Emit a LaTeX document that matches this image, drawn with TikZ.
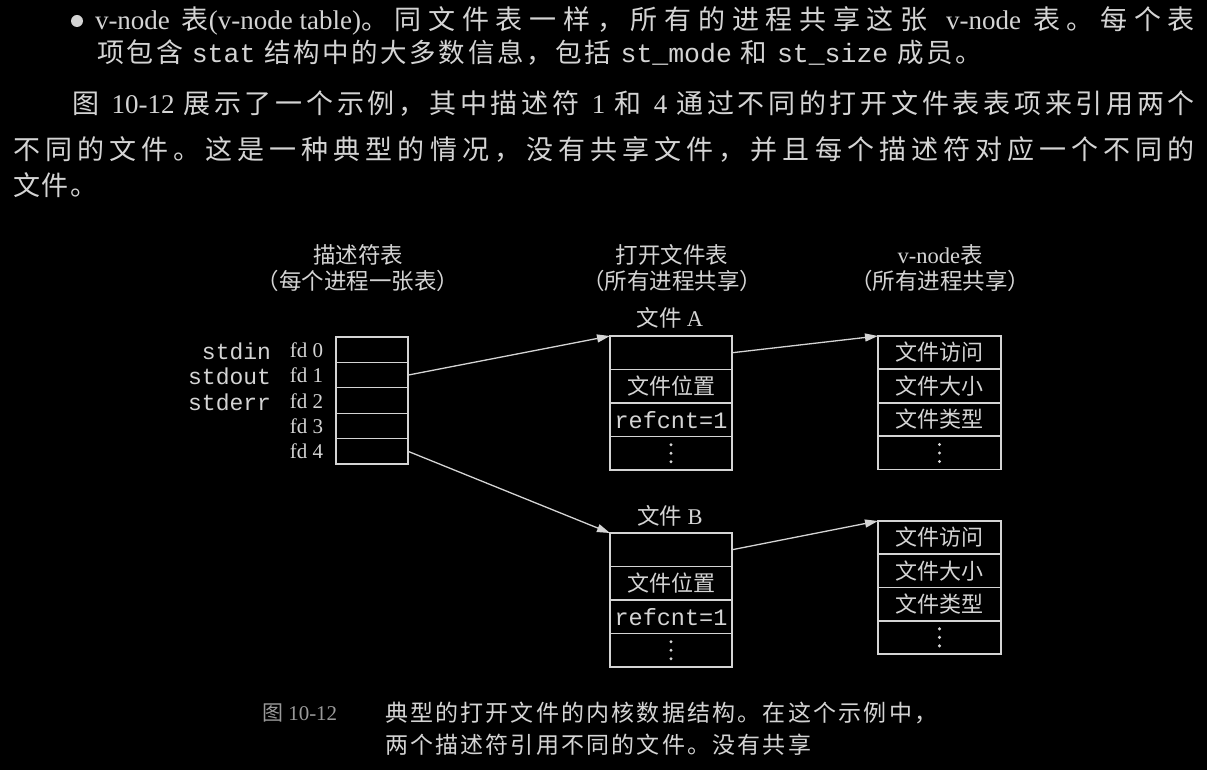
\documentclass[tikz,border=0pt]{standalone}
\usepackage{fontspec}
\setmainfont{Liberation Serif}
\setmonofont{Liberation Mono}
\newfontfamily\cjk{Noto Sans CJK SC}
\usetikzlibrary{arrows.meta}
\definecolor{ink}{HTML}{D4D4D4}
\definecolor{dim}{HTML}{9A9A9A}
\makeatletter
% CJK run with a gap after every character (#1 is the glue to insert)
\newcommand{\zsp}[2]{{\cjk\@tfor\zz@c:=#2\do{\zz@c\hskip #1\relax}}}
\makeatother
% body text: small natural gap that may stretch to justify a line
\newcommand{\zh}[1]{\zsp{1.6pt plus 1fil}{#1}}
\newcommand{\zl}[1]{\zsp{2.6pt}{#1}}
\newcommand{\cz}[1]{\zsp{2.2pt}{#1}}
% stretchable word space used in justified lines
\newcommand{\wsp}{\hskip 0.25em plus 1fil\relax}

\begin{document}
\begin{tikzpicture}[x=1pt,y=-1pt,
  every node/.style={text=ink, inner sep=0pt, outer sep=0pt},
  body/.style={anchor=west, font=\fontsize{27}{27}\selectfont},
  head/.style={font=\fontsize{22.5}{22.5}\selectfont\cjk},
  lbl/.style={anchor=east, font=\fontsize{21}{21}\selectfont},
  mlbl/.style={anchor=east, font=\fontsize{23}{23}\selectfont\ttfamily},
  boxrow/.style={draw=ink, line width=1.3pt, anchor=north west, font=\fontsize{22}{22}\selectfont\cjk},
  dcell/.style={boxrow, minimum width=72pt, minimum height=25.4pt},
  fcell/.style={boxrow, minimum width=122pt, minimum height=33.5pt},
  vcell/.style={boxrow, minimum width=123pt, minimum height=33pt},
  refrow/.style={font=\fontsize{23.5}{23.5}\selectfont\ttfamily},
  dotrow/.style={path picture={
      \foreach \dy in {-8.5,0,8.5}
        \fill[ink] ([yshift=\dy pt]path picture bounding box.center) circle (1.7pt);}},
  arr/.style={draw=ink, line width=1.3pt, -{Triangle[length=13pt,width=8pt]}},
  captext/.style={anchor=west, font=\fontsize{23}{23}\selectfont},
]
\fill[black] (0,0) rectangle (1207,770);
\useasboundingbox (0,0) rectangle (1207,770);

% running text above the figure
\fill[ink] (77,21) circle (6pt);
\node[body] (t1) at (95,21) {\makebox[1100pt][s]{v-node\wsp\zh{表}\unskip(v-node table)\zh{。同文件表一样，所有的进程共享这张}\wsp v-node\wsp\zh{表。每个表}\unskip}};
\node[body] (t2) at (97,53) {\zl{项包含}\hskip 6pt\fontsize{26.5}{26.5}\ttfamily stat\hskip 9pt\zl{结构中的大多数信息，包括}\hskip 7pt st\_mode\hskip 9pt\zl{和}\hskip 7pt st\_size\hskip 9pt\zl{成员。}};
\node[body] (t3) at (72,104) {\makebox[1123pt][s]{\zh{图}\wsp 10-12\wsp\zh{展示了一个示例，其中描述符}\wsp 1\wsp\zh{和}\wsp 4\wsp\zh{通过不同的打开文件表表项来引用两个}\unskip}};
\node[body] (t4) at (13,149) {\makebox[1182pt][s]{\zh{不同的文件。这是一种典型的情况，没有共享文件，并且每个描述符对应一个不同的}\unskip}};
\node[body] (t5) at (13,185) {\zh{文件。}};

% column headings
\node[head] (h1a) at (358,255) {描述符表};
\node[head] (h1b) at (358,281) {（每个进程一张表）};
\node[head] (h2a) at (672,255) {打开文件表};
\node[head] (h2b) at (672,281) {（所有进程共享）};
\node[head] (h3a) at (940,255) {{\rmfamily v-node}表};
\node[head] (h3b) at (940,281) {（所有进程共享）};

% descriptor table
\node[dcell] (d0) at (336,337.0) {};
\node[dcell] (d1) at (336,362.4) {};
\node[dcell] (d2) at (336,387.8) {};
\node[dcell] (d3) at (336,413.2) {};
\node[dcell] (d4) at (336,438.6) {};
\node[lbl] (f0) at (323,350) {fd 0};
\node[lbl] (f1) at (323,375) {fd 1};
\node[lbl] (f2) at (323,401) {fd 2};
\node[lbl] (f3) at (323,426) {fd 3};
\node[lbl] (f4) at (323,451) {fd 4};
\node[mlbl] (s0) at (271,351) {stdin};
\node[mlbl] (s1) at (271,376) {stdout};
\node[mlbl] (s2) at (271,402) {stderr};

% open file table: file A
\node[head] (fa) at (670,318) {文件 {\rmfamily A}};
\node[fcell] (fa0) at (610,336.0) {};
\node[fcell] (fa1) at (610,369.5) {文件位置};
\node[fcell, refrow] (fa2) at (610,403.0) {refcnt=1};
\node[fcell, dotrow] (fa3) at (610,436.5) {};

% open file table: file B
\node[head] (fb) at (670,516) {文件 {\rmfamily B}};
\node[fcell] (fb0) at (610,533.0) {};
\node[fcell] (fb1) at (610,566.5) {文件位置};
\node[fcell, refrow] (fb2) at (610,600.0) {refcnt=1};
\node[fcell, dotrow] (fb3) at (610,633.5) {};

% v-node table entries
\node[vcell] (va0) at (878,336.0) {文件访问};
\node[vcell] (va1) at (878,369.5) {文件大小};
\node[vcell] (va2) at (878,403.0) {文件类型};
\node[vcell, dotrow] (va3) at (878,436.5) {};

\node[vcell] (vb0) at (878,521.0) {文件访问};
\node[vcell] (vb1) at (878,554.3) {文件大小};
\node[vcell] (vb2) at (878,587.6) {文件类型};
\node[vcell, dotrow] (vb3) at (878,620.9) {};

% pointers
\draw[arr] (d1.east) -- (fa0.north west);
\draw[arr] (d4.east) -- (fb0.north west);
\draw[arr] (fa0.east) -- (va0.north west);
\draw[arr] (fb0.east) -- (vb0.north west);

% caption
\node[captext, text=dim, font=\fontsize{21}{21}\selectfont] (cn) at (262,713) {{\cjk 图} 10-12};
\node[captext] (c1) at (385,713) {\cz{典型的打开文件的内核数据结构。在这个示例中，}};
\node[captext] (c2) at (385,745) {\cz{两个描述符引用不同的文件。没有共享}};
\end{tikzpicture}
\end{document}
